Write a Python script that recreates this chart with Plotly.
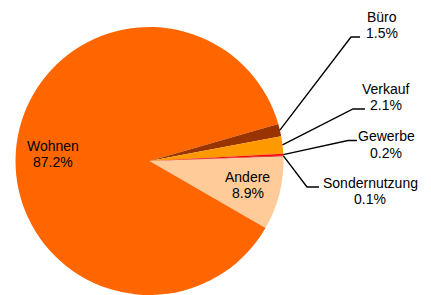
import math
import plotly.graph_objects as go

# ---- data ----
categories = ["Andere", "Wohnen", "Büro", "Verkauf", "Gewerbe", "Sondernutzung"]
values = [8.9, 87.2, 1.5, 2.1, 0.2, 0.1]
colors = ["#FFCC99", "#FF6600", "#993300", "#FF9900", "#FF0000", "#CC0000"]

# ---- layout constants (pixels) ----
W, H = 431, 295
ROTATION = 88
DOM_X = [15.5 / W, 283.5 / W]
DOM_Y = [0.0, 268.0 / H]

# pie geometry as plotly computes it
box_w = W * (DOM_X[1] - DOM_X[0])
box_h = H * (DOM_Y[1] - DOM_Y[0])
R = min(box_w, box_h) / 2
CX = W * (DOM_X[0] + DOM_X[1]) / 2
CY = H * (1 - DOM_Y[0]) - box_h / 2

# label placement (layout only): text centre for inside labels,
# elbow/end/text centre for outside labels
inside_text = {"Wohnen": (53, 154), "Andere": (247.5, 185)}
outside = {
    "Büro": {"elbow": (351, 37), "end": (360, 37), "text": (382, 25)},
    "Verkauf": {"elbow": (353, 109), "end": (365, 109), "text": (386, 97)},
    "Gewerbe": {"elbow": (348, 140.5), "end": (357, 140.5), "text": (386, 144.5)},
    "Sondernutzung": {"elbow": (307, 187), "end": (319, 187), "text": (370, 191)},
}
LINE_GAP = 16
FONT = dict(family="Arial, Liberation Sans, sans-serif", size=14, color="#000000")


def px(x):
    return x / W


def py(y):
    return 1 - y / H


fig = go.Figure(
    go.Pie(
        labels=categories,
        values=values,
        sort=False,
        direction="clockwise",
        rotation=ROTATION,
        marker=dict(colors=colors, line=dict(width=0)),
        textinfo="none",
        hoverinfo="label+percent",
        domain=dict(x=DOM_X, y=DOM_Y),
        showlegend=False,
    )
)

total = sum(values)
annotations = []
shapes = []
cum = 0.0
for name, v in zip(categories, values):
    mid = ROTATION + (cum + v / 2) / total * 360
    cum += v
    pct = f"{v / total * 100:.1f}%"
    if name in inside_text:
        tx, ty = inside_text[name]
    else:
        o = outside[name]
        a = math.radians(mid)
        sx = CX + R * math.sin(a)
        sy = CY - R * math.cos(a)
        ex, ey = o["elbow"]
        fx, fy = o["end"]
        shapes.append(
            dict(
                type="path",
                xref="paper",
                yref="paper",
                path=f"M {px(sx)} {py(sy)} L {px(ex)} {py(ey)} L {px(fx)} {py(fy)}",
                line=dict(color="#000000", width=1.4),
            )
        )
        tx, ty = o["text"]
    for txt, yy in ((name, ty - LINE_GAP / 2), (pct, ty + LINE_GAP / 2)):
        annotations.append(
            dict(
                text=txt,
                x=px(tx),
                y=py(yy),
                xref="paper",
                yref="paper",
                xanchor="center",
                yanchor="middle",
                showarrow=False,
                font=FONT,
            )
        )

fig.update_layout(
    width=W,
    height=H,
    margin=dict(l=0, r=0, t=0, b=0),
    paper_bgcolor="#FFFFFF",
    plot_bgcolor="#FFFFFF",
    annotations=annotations,
    shapes=shapes,
)

fig.write_html(
    "out.html",
    config={"displayModeBar": False},
    post_script="document.body.style.margin='0';document.body.style.overflow='hidden';",
)
